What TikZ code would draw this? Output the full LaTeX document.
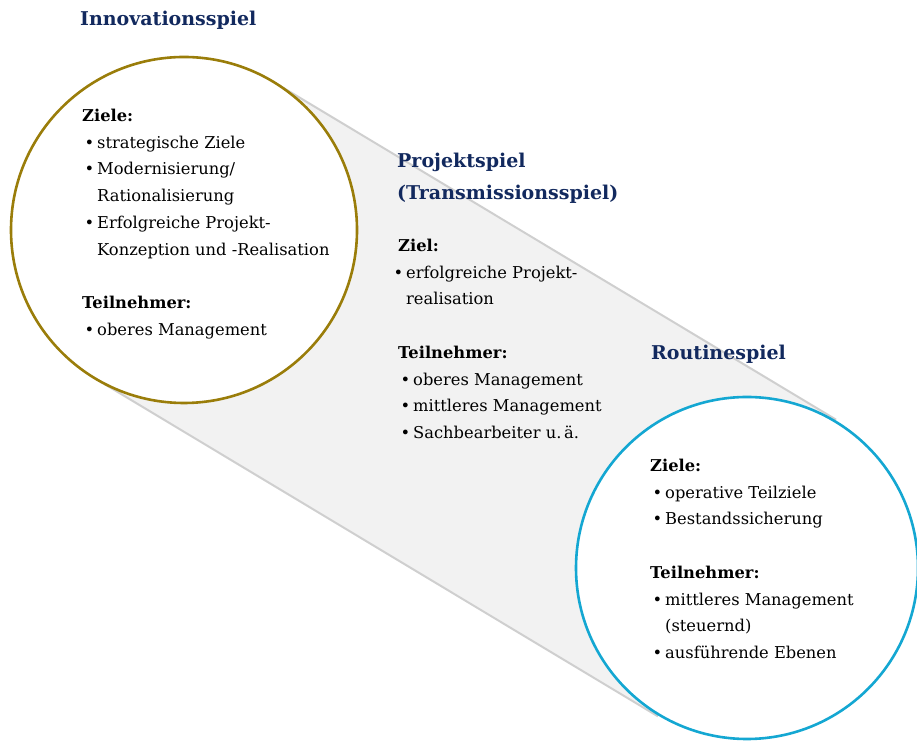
\documentclass[tikz,border=0pt]{standalone}
\usepackage{fontspec}
\setmainfont{DejaVu Serif}
\usetikzlibrary{calc,positioning}
\definecolor{SpielNavy}{HTML}{12295E}
\definecolor{SpielGold}{HTML}{9A7D0A}
\definecolor{SpielCyan}{HTML}{14A7D2}
\definecolor{BandGray}{HTML}{F2F2F2}
\definecolor{BandLine}{HTML}{CFCFCF}

\newcommand{\bul}[1]{\makebox[15pt][l]{\hspace*{2.5pt}\textbullet}#1}
\newcommand{\cont}[1]{\hspace*{15pt}#1}

\tikzset{
  headline/.style={anchor=north west, inner sep=0pt, align=left, text=SpielNavy,
    font=\fontsize{19}{32}\selectfont\bfseries},
  bodytext/.style={anchor=north west, inner sep=0pt, align=left,
    font=\fontsize{16.3}{26.7}\selectfont},
  ring/.style={line width=2.6pt, fill=white}
}

\begin{document}
\begin{tikzpicture}[x=1pt,y=1pt]
  \useasboundingbox (0,0) rectangle (917,743);

  % Kreismittelpunkte
  \coordinate (innoC) at (184,513);
  \coordinate (routC) at (747,175);

  % Band zwischen den Kreisen
  \coordinate (bandTL) at ($(innoC)!173pt!90:(routC)$);
  \coordinate (bandBL) at ($(innoC)!173pt!-90:(routC)$);
  \coordinate (bandTR) at ($(routC)!173pt!-90:(innoC)$);
  \coordinate (bandBR) at ($(routC)!173pt!90:(innoC)$);
  \fill[BandGray] (bandTL) -- (bandTR) -- (bandBR) -- (bandBL) -- cycle;
  \draw[BandLine, line width=2pt] (bandTL) -- (bandTR);
  \draw[BandLine, line width=2pt] (bandBL) -- (bandBR);

  \draw[ring, draw=SpielGold] (innoC) circle (173pt);
  \draw[ring, draw=SpielCyan] (routC) circle (171pt);

  % Innovationsspiel
  \node[headline] (innoTitle) at (80,732) {Innovationsspiel};
  \node[bodytext] (innoText) at (82,634) {%
    \textbf{Ziele:}\\
    \bul{strategische Ziele}\\
    \bul{Modernisierung/}\\
    \cont{Rationalisierung}\\
    \bul{Erfolgreiche Projekt-}\\
    \cont{Konzeption und -Realisation}\\[26.7pt]
    \textbf{Teilnehmer:}\\
    \bul{oberes Management}};

  % Projektspiel
  \node[headline] (projTitle) at (397,590) {Projektspiel\\(Transmissionsspiel)};
  \node[bodytext] (projText) at (398,504) {%
    \textbf{Ziel:}\\
    \hspace*{-7pt}\bul{erfolgreiche Projekt-}\\
    \hspace*{-7pt}\cont{realisation}\\[26.7pt]
    \textbf{Teilnehmer:}\\
    \bul{oberes Management}\\
    \bul{mittleres Management}\\
    \bul{Sachbearbeiter u.\,ä.}};

  % Routinespiel
  \node[headline] (routTitle) at (651,398) {Routinespiel};
  \node[bodytext] (routText) at (650,284) {%
    \textbf{Ziele:}\\
    \bul{operative Teilziele}\\
    \bul{Bestandssicherung}\\[26.7pt]
    \textbf{Teilnehmer:}\\
    \bul{mittleres Management}\\
    \cont{(steuernd)}\\
    \bul{ausführende Ebenen}};
\end{tikzpicture}
\end{document}
